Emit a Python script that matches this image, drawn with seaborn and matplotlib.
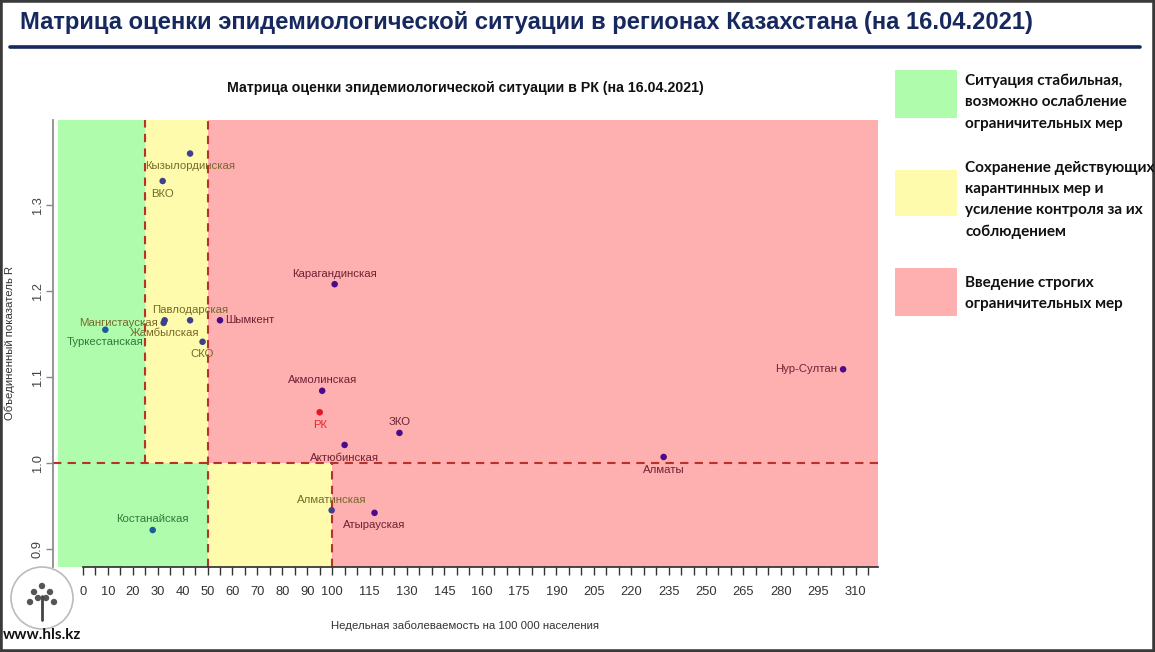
import numpy as np
import pandas as pd
import seaborn as sns
import matplotlib.pyplot as plt
from matplotlib.patches import Rectangle, Circle
from matplotlib.lines import Line2D

# Data
regions = ['Кызылординская', 'ВКО', 'Карагандинская', 'Мангистауская', 'Жамбылская',
           'Павлодарская', 'Шымкент', 'Туркестанская', 'СКО', 'Акмолинская', 'РК',
           'ЗКО', 'Актюбинская', 'Алматы', 'Алматинская', 'Атырауская', 'Костанайская',
           'Нур-Султан']
incidence = [43, 32, 101, 32.4, 32.8, 43, 55, 9, 48, 96, 95,
             127, 105, 233, 99.8, 117, 28, 305]
r_value = [1.360, 1.328, 1.208, 1.163, 1.166, 1.166, 1.166, 1.155, 1.141, 1.084, 1.059,
           1.035, 1.021, 1.007, 0.945, 0.942, 0.922, 1.109]
# label side like R's text(pos=): 1 below, 2 left, 3 above, 4 right
label_side = [1, 1, 3, 2, 1, 3, 4, 1, 1, 3, 1, 3, 1, 1, 3, 1, 3, 2]

x_ticks = list(range(0, 316, 5))
x_labels = list(range(0, 101, 10)) + list(range(115, 311, 15))
y_ticks = [0.9, 1.0, 1.1, 1.2, 1.3]

legend_texts = ['Ситуация стабильная,\nвозможно ослабление\nограничительных мер',
                'Сохранение действующих\nкарантинных мер и\nусиление контроля за их\nсоблюдением',
                'Введение строгих\nограничительных мер']

# zone thresholds
R_LIM = 1.0
X_GREEN_HI, X_YELLOW_HI = 25, 50   # above R = 1
X_GREEN_LO, X_YELLOW_LO = 50, 100  # below R = 1

GREEN, YELLOW, RED = '#affcac', '#fefcac', '#feafaf'
DASH = '#b8322a'
SANS = ['Liberation Sans', 'DejaVu Sans']


def zone(x, y, name):
    if name == 'РК':
        return 'rk'
    if y >= R_LIM:
        return 'green' if x < X_GREEN_HI else ('yellow' if x < X_YELLOW_HI else 'red')
    return 'green' if x < X_GREEN_LO else ('yellow' if x < X_YELLOW_LO else 'red')


df = pd.DataFrame({'region': regions, 'incidence': incidence, 'R': r_value, 'side': label_side})
df['zone'] = [zone(x, y, n) for x, y, n in zip(df.incidence, df.R, df.region)]

point_colors = {'green': '#1d5c9c', 'yellow': '#3f3f8f', 'red': '#4a0a8a', 'rk': '#e8141e'}
label_colors = {'green': '#2f7a3a', 'yellow': '#76692a', 'red': '#6e2233', 'rk': '#e8262a'}

sns.set_theme(style='white')
plt.rcParams['font.family'] = SANS

W, H = 1155, 652
fig = plt.figure(figsize=(W / 100, H / 100), dpi=100)
ax = fig.add_axes([53 / W, 85 / H, 825 / W, 447 / H])
xmin, xmax = -12, 319
ymin, ymax = 0.879, 1.399
ax.set_xlim(xmin, xmax)
ax.set_ylim(ymin, ymax)

# coloured decision zones
ax.fill_between([-10, X_GREEN_HI], R_LIM, ymax, color=GREEN, lw=0)
ax.fill_between([X_GREEN_HI, X_YELLOW_HI], R_LIM, ymax, color=YELLOW, lw=0)
ax.fill_between([X_YELLOW_HI, xmax], R_LIM, ymax, color=RED, lw=0)
ax.fill_between([-10, X_GREEN_LO], ymin, R_LIM, color=GREEN, lw=0)
ax.fill_between([X_GREEN_LO, X_YELLOW_LO], ymin, R_LIM, color=YELLOW, lw=0)
ax.fill_between([X_YELLOW_LO, xmax], ymin, R_LIM, color=RED, lw=0)

dash_kw = dict(color=DASH, lw=1.5, dashes=(4, 3))
ax.plot([X_GREEN_HI, X_GREEN_HI], [R_LIM, ymax], **dash_kw)
ax.plot([X_YELLOW_HI, X_YELLOW_HI], [ymin, ymax], **dash_kw)
ax.plot([X_YELLOW_LO, X_YELLOW_LO], [ymin, R_LIM], **dash_kw)
ax.plot([xmin, xmax], [R_LIM, R_LIM], **dash_kw)

sns.scatterplot(data=df, x='incidence', y='R', hue='zone', palette=point_colors,
                s=22, edgecolor='none', legend=False, ax=ax, zorder=5)

offsets = {1: ((0, -5.5), 'center', 'top'), 2: ((-4, 0), 'right', 'center'),
           3: ((0, 4), 'center', 'bottom'), 4: ((4, 0), 'left', 'center')}
for _, row in df.iterrows():
    (dx, dy), ha, va = offsets[row.side]
    ax.annotate(row.region, (row.incidence, row.R), xytext=(dx, dy),
                textcoords='offset points', ha=ha, va=va, fontsize=8.2,
                color=label_colors[row.zone], zorder=6)

# R-style axes
for s in ['top', 'right']:
    ax.spines[s].set_visible(False)
ax.spines['left'].set_color('#888888')
ax.spines['bottom'].set_color('#333333')
ax.spines['bottom'].set_bounds(0, xmax)
ax.set_xticks(x_ticks)
ax.set_xticklabels([str(t) if t in x_labels else '' for t in x_ticks])
ax.set_yticks(y_ticks)
ax.set_yticklabels([f'{t:.1f}' for t in y_ticks], rotation=90, va='center')
ax.tick_params(axis='x', length=5.5, width=1, color='#333333', labelsize=9.3,
               labelcolor='#333333', pad=8.5, bottom=True, direction='out')
ax.tick_params(axis='y', length=5, width=1, color='#888888', labelsize=9.3,
               labelcolor='#444444', pad=1.5, left=True, direction='out')
ax.set_xlabel('Недельная заболеваемость на 100 000 населения', fontsize=8.2,
              color='#333333')
ax.set_ylabel('Объединенный показатель R', fontsize=8.2, color='#333333')
ax.xaxis.label.set_va('center')
ax.yaxis.label.set_va('center')
ax.xaxis.set_label_coords((465 - 53) / 825, -(626 - 567) / 447)
ax.yaxis.set_label_coords(-(53 - 10) / 825, (567 - 343) / 447)
ax.grid(False)

# slide furniture
fig.text(20 / W, 1 - 23 / H, 'Матрица оценки эпидемиологической ситуации в регионах Казахстана (на 16.04.2021)',
         fontsize=17.1, fontweight='bold', color='#16285e', ha='left', va='center')
fig.add_artist(Line2D([10 / W, 1140 / W], [1 - 47 / H] * 2, color='#16285e', lw=2.6))
fig.text(465 / W, 1 - 88 / H, 'Матрица оценки эпидемиологической ситуации в РК (на 16.04.2021)',
         fontsize=10.2, fontweight='bold', color='#111111', ha='center', va='center')

box_tops = [70, 170, 268]
box_heights = [48, 46, 48]
text_first_line = [80, 167, 282]
for txt, top, h, t0, col in zip(legend_texts, box_tops, box_heights, text_first_line,
                                [GREEN, YELLOW, RED]):
    fig.patches.append(Rectangle((895 / W, 1 - (top + h) / H), 62 / W, h / H,
                                 transform=fig.transFigure, color=col, lw=0))
    fig.text(965 / W, 1 - (t0 - 6) / H, txt, fontsize=11, fontweight='bold',
             family=['Lato', 'DejaVu Sans'], color='#111111', ha='left', va='top',
             linespacing=1.65)

# small logo and site address
lx, ly = 42 / W, 1 - 598 / H
fig.patches.append(Circle((42, H - 598), 31, transform=None, fill=False,
                          edgecolor='#bbbbbb', lw=1.2))
fig.add_artist(Line2D([lx, lx], [ly - 22 / H, ly + 2 / H], color='#444444', lw=2))
for ddx, ddy in [(-8, 6), (8, 6), (-12, -4), (12, -4), (0, 12), (-4, 0), (4, 0)]:
    fig.patches.append(Circle((42 + ddx, H - 598 + ddy), 3.2, transform=None,
                              color='#555555', lw=0))
fig.text(42 / W, 1 - 635 / H, 'www.hls.kz', fontsize=11, fontweight='bold',
         family=['Lato', 'DejaVu Sans'], color='#111111', ha='center', va='center')

# slide frame
fig.patches.append(Rectangle((0, 0), 1, 1, transform=fig.transFigure, fill=False,
                             edgecolor='#3a3a3a', lw=4))

fig.savefig('out.png', dpi=100)
